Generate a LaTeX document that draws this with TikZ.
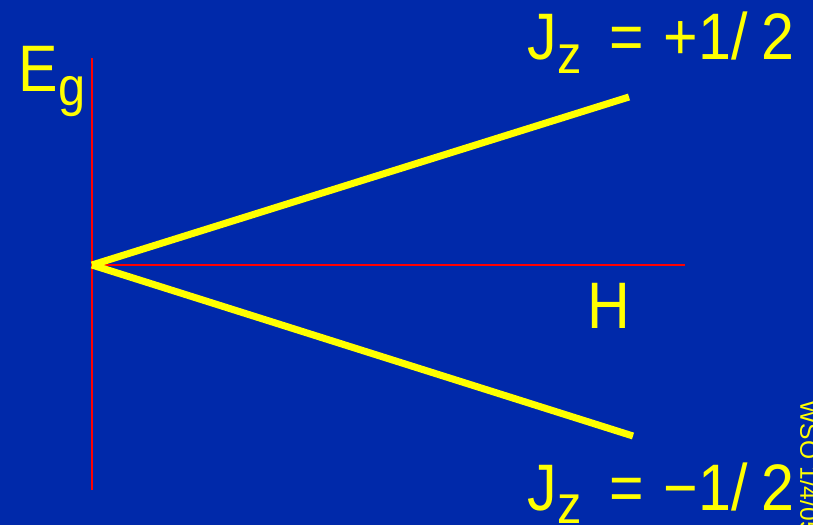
\documentclass[tikz,border=0pt]{standalone}
\usepackage{fontspec}
\setmainfont{Liberation Sans}
\newfontfamily\slidefont[FakeStretch=0.9]{Liberation Sans}
\usetikzlibrary{positioning}
\definecolor{slideblue}{RGB}{0,41,170}
\definecolor{slideyellow}{RGB}{255,255,0}
\newcommand{\lowsub}[1]{\raisebox{-0.2em}{\fontsize{15.4}{18}\selectfont #1}}

\begin{document}
\begin{tikzpicture}[
        x=0.01cm, y=-0.01cm,
        axis/.style={draw=red, line width=0.6pt},
        level/.style={draw=slideyellow, line width=2pt},
        lbl/.style={text=slideyellow, font=\slidefont\fontsize{18.7}{22}\selectfont, inner sep=0pt, anchor=base west}
    ]
        % Background
        \fill[slideblue] (0,0) rectangle (813,525);
        \useasboundingbox (0,0) rectangle (813,525);
        \clip (0,0) rectangle (813,525);

        % Axes
        \coordinate (o) at (92,265);
        \coordinate (vtop) at (92,58);
        \coordinate (vbot) at (92,490);
        \coordinate (hend) at (685,265);
        \draw[axis] (vtop) -- (vbot);
        \draw[axis] (o) -- (hend);

        % Zeeman levels
        \coordinate (up) at (629,97);
        \coordinate (dn) at (633,436);
        \draw[level] (o) -- (up);
        \draw[level] (o) -- (dn);

        % Labels
        \node[lbl] (eg) at (18,92) {E\lowsub{g}};
        \node[lbl] (h) at (587,329) {H};
        \node[lbl] (jup) at (527,60) {J\lowsub{z}\hspace{0.42em}=\hspace{0.3em}+1/\hspace{0.22em}2};
        \node[lbl] (jdn) at (527,510) {J\lowsub{z}\hspace{0.42em}=\hspace{0.3em}−1/\hspace{0.22em}2};
        \node[text=slideyellow, font=\fontsize{7}{8}\selectfont, rotate=-90, anchor=north west, inner sep=0pt] (stamp) at (819,400) {WSO 1/4/05};
\end{tikzpicture}
\end{document}
